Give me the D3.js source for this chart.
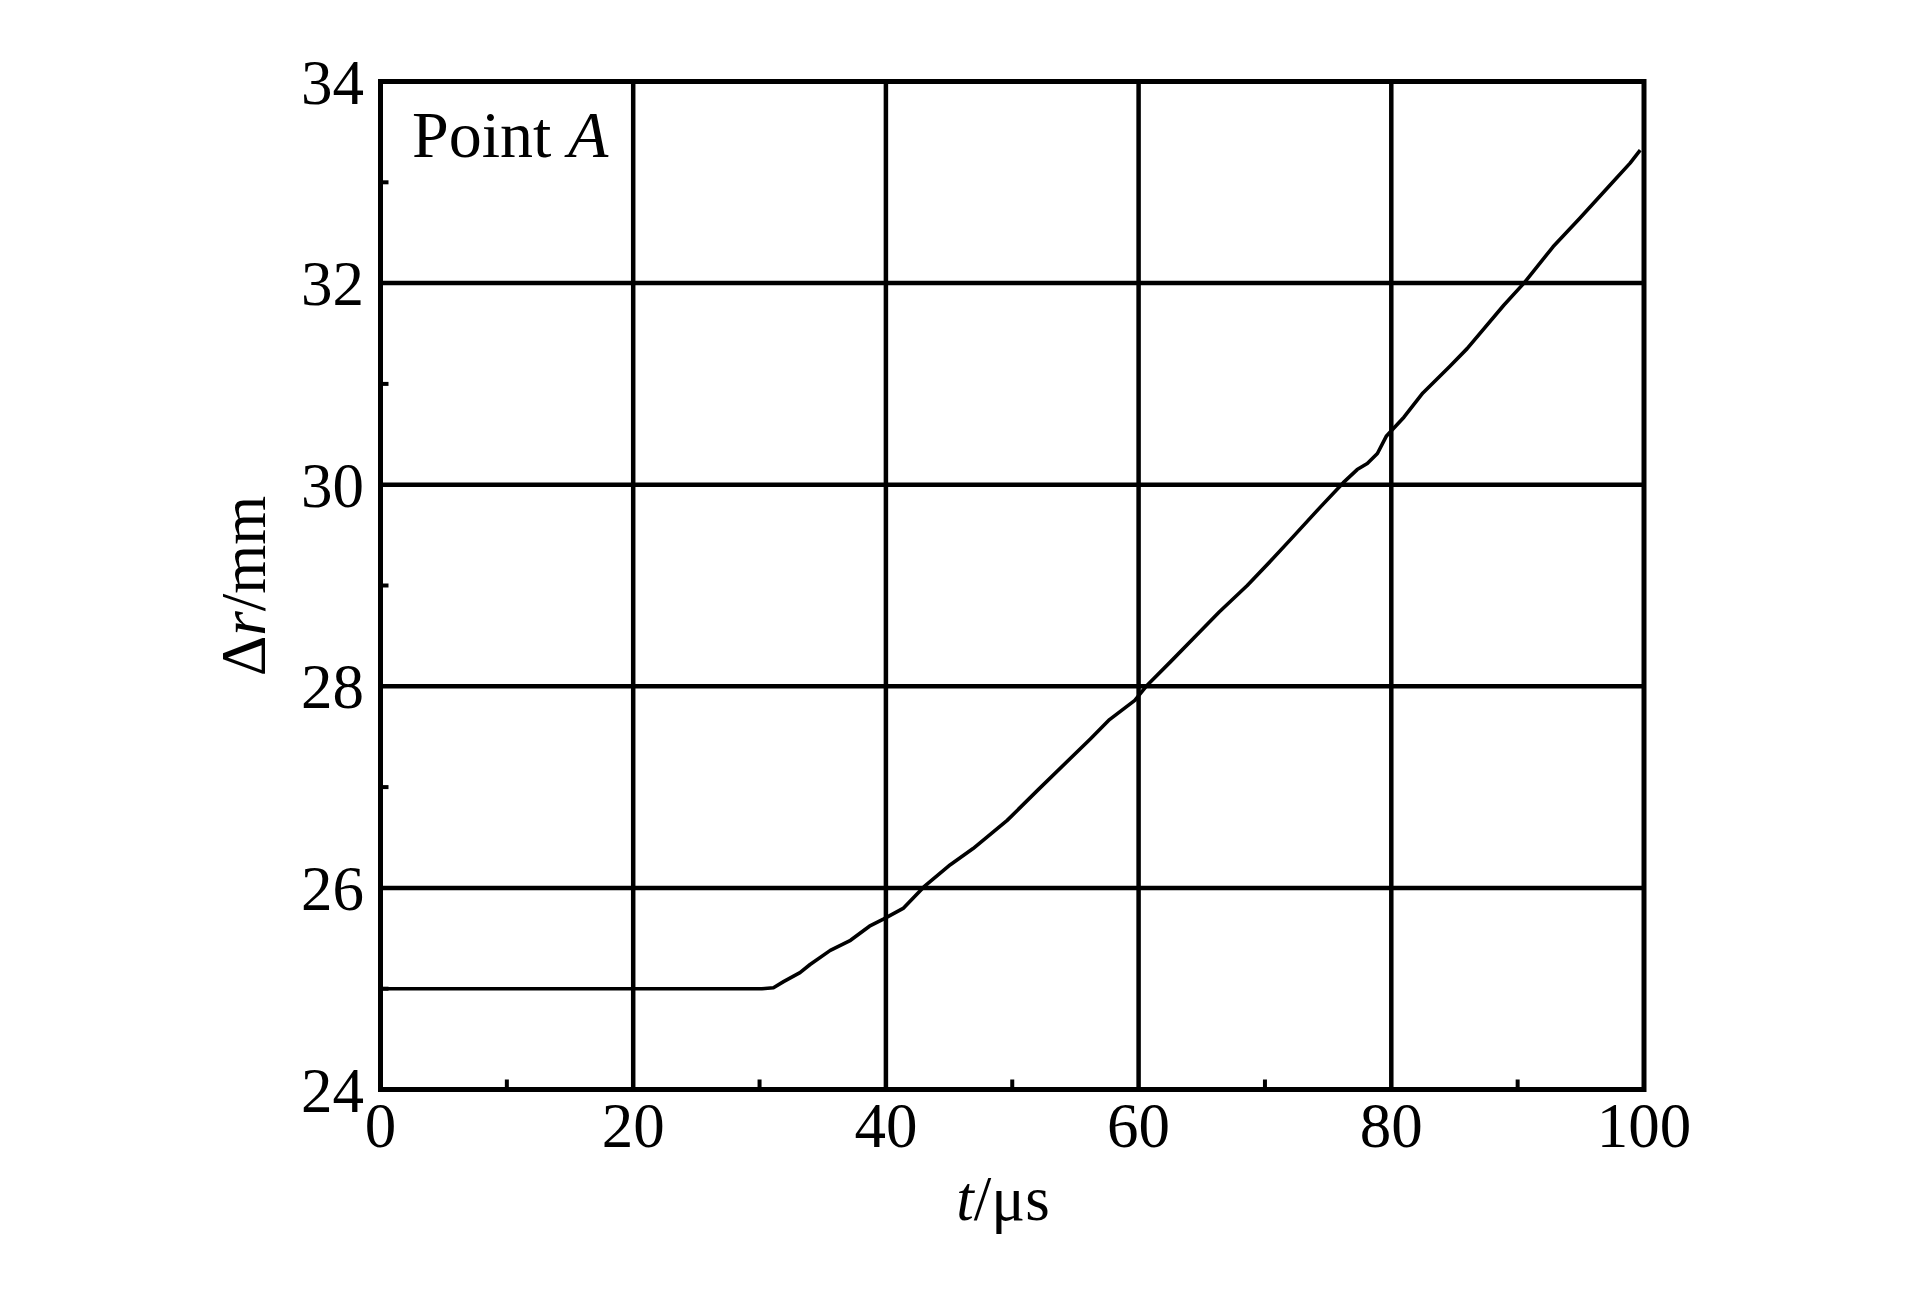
<!DOCTYPE html>
<html>
<head>
<meta charset="utf-8">
<script src="https://cdn.jsdelivr.net/npm/d3@7"></script>
<style>
  html, body { margin: 0; padding: 0; background: #fff; }
  svg { display: block; }
  text { font-family: "Liberation Serif", "Times New Roman", serif; fill: #000; }
</style>
</head>
<body>
<svg id="chart" width="1923" height="1299"></svg>
<script>
// ---- data ----
const timeUs = [0, 30.2, 31.1, 31.9, 33.2, 34.0, 35.6, 37.2, 38.7, 39.8, 41.4, 43.0, 45.1, 46.9, 49.6, 52.1, 56.2, 57.7, 59.7, 60.6, 62.5, 64.6, 66.4, 68.6, 70.5, 72.2, 74.4, 76.2, 77.3, 78.1, 78.9, 79.6, 81.0, 82.5, 84.6, 86.0, 88.9, 90.5, 92.8, 94.9, 97.3, 98.9, 99.7];
const deltaR = [25.0, 25.0, 25.01, 25.07, 25.16, 25.24, 25.38, 25.48, 25.62, 25.69, 25.80, 26.01, 26.23, 26.39, 26.67, 26.98, 27.48, 27.67, 27.86, 28.0, 28.24, 28.51, 28.74, 29.0, 29.25, 29.48, 29.78, 30.02, 30.15, 30.21, 30.31, 30.48, 30.67, 30.91, 31.17, 31.35, 31.78, 32.0, 32.36, 32.64, 32.97, 33.19, 33.32];
const xTicks = [0, 20, 40, 60, 80, 100];
const yTicks = [24, 26, 28, 30, 32, 34];
const xMinorTicks = [10, 30, 50, 70, 90];
const yMinorTicks = [25, 27, 29, 31, 33];

// ---- layout ----
const pL = 380.5, pR = 1644, pT = 81.5, pB = 1089.5;
const svg = d3.select("#chart");
const x = d3.scaleLinear().domain([0, 100]).range([pL, pR]);
const y = d3.scaleLinear().domain([24, 34]).range([pB, pT]);

// grid lines
const g = svg.append("g");
g.selectAll("line.vg").data(xTicks.slice(1, -1)).enter().append("line")
  .attr("x1", d => x(d)).attr("x2", d => x(d)).attr("y1", pT).attr("y2", pB)
  .attr("stroke", "#000").attr("stroke-width", 4.5);
g.selectAll("line.hg").data(yTicks.slice(1, -1)).enter().append("line")
  .attr("x1", pL).attr("x2", pR).attr("y1", d => y(d)).attr("y2", d => y(d))
  .attr("stroke", "#000").attr("stroke-width", 4.5);

// minor ticks
g.selectAll("line.xm").data(xMinorTicks).enter().append("line")
  .attr("x1", d => x(d)).attr("x2", d => x(d)).attr("y1", pB).attr("y2", pB - 10)
  .attr("stroke", "#000").attr("stroke-width", 4);
g.selectAll("line.ym").data(yMinorTicks).enter().append("line")
  .attr("x1", pL).attr("x2", pL + 8).attr("y1", d => y(d)).attr("y2", d => y(d))
  .attr("stroke", "#000").attr("stroke-width", 4);

// frame
g.append("rect").attr("x", pL).attr("y", pT).attr("width", pR - pL).attr("height", pB - pT)
  .attr("fill", "none").attr("stroke", "#000").attr("stroke-width", 5);

// curve
const pts = timeUs.map((t, i) => [t, deltaR[i]]);
svg.append("path").datum(pts)
  .attr("fill", "none").attr("stroke", "#000").attr("stroke-width", 3.6)
  .attr("stroke-linejoin", "round")
  .attr("d", d3.line().x(d => x(d[0])).y(d => y(d[1])));

// tick labels
svg.selectAll("text.xl").data(xTicks).enter().append("text")
  .attr("x", d => x(d)).attr("y", 1147).attr("text-anchor", "middle")
  .attr("font-size", 63).text(d => d);
svg.selectAll("text.yl").data(yTicks).enter().append("text")
  .attr("x", 364).attr("y", d => y(d) + 22).attr("text-anchor", "end")
  .attr("font-size", 63).text(d => d);

// axis titles
const xt = svg.append("text").attr("x", 1003).attr("y", 1220).attr("text-anchor", "middle").attr("font-size", 63);
xt.append("tspan").attr("font-style", "italic").text("t");
xt.append("tspan").text("/μs");

const yt = svg.append("text").attr("transform", "translate(265,586) rotate(-90)")
  .attr("text-anchor", "middle").attr("font-size", 63);
yt.append("tspan").text("Δ");
yt.append("tspan").attr("font-style", "italic").text("r");
yt.append("tspan").text("/mm");

// annotation
const pa = svg.append("text").attr("x", 412).attr("y", 157).attr("font-size", 66);
pa.append("tspan").text("Point ");
pa.append("tspan").attr("font-style", "italic").text("A");
</script>
</body>
</html>
